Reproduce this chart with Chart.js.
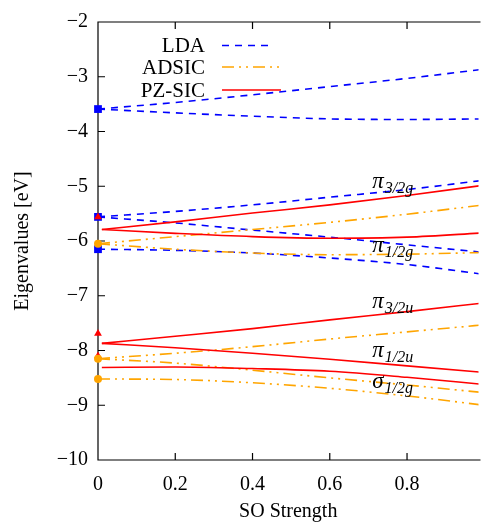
<!DOCTYPE html>
<html><head><meta charset="utf-8">
<script src="https://cdn.jsdelivr.net/npm/chart.js@4"></script>
<style>html,body{margin:0;padding:0;background:#fff;overflow:hidden}#wrap{width:484px;height:524px;position:relative}</style>
</head><body><div id="wrap"><canvas id="c" width="484" height="524"></canvas></div>
<script>
// ---- data ----
const soStrength = [0, 0.2, 0.4, 0.6, 0.8, 1.0];
const pzStrength = [0.01, 0.2, 0.4, 0.6, 0.8, 1.0];

const lda1 = [-3.59, -3.47, -3.33, -3.18, -3.03, -2.86];
const lda2 = [-3.59, -3.66, -3.72, -3.77, -3.78, -3.77];
const lda3 = [-5.56, -5.46, -5.34, -5.20, -5.06, -4.89];
const lda4 = [-5.56, -5.67, -5.80, -5.93, -6.07, -6.21];
const lda5 = [-6.15, -6.17, -6.22, -6.31, -6.43, -6.61];

const adsic1 = [-6.05, -5.92, -5.79, -5.66, -5.51, -5.34];
const adsic2 = [-6.05, -6.15, -6.22, -6.25, -6.24, -6.21];
const adsic3 = [-8.15, -8.05, -7.93, -7.79, -7.66, -7.53];
const adsic4 = [-8.15, -8.23, -8.36, -8.50, -8.63, -8.77];
const adsic5 = [-8.52, -8.53, -8.59, -8.69, -8.83, -9.00];

const pz1 = [-5.79, -5.65, -5.49, -5.34, -5.17, -4.98];
const pz2 = [-5.79, -5.86, -5.92, -5.95, -5.93, -5.85];
const pz3 = [-7.87, -7.74, -7.60, -7.44, -7.29, -7.13];
const pz4 = [-7.87, -7.95, -8.05, -8.16, -8.28, -8.40];
const pz5 = [-8.31, -8.30, -8.33, -8.38, -8.49, -8.62];

const ldaStart = [-3.59, -5.56, -6.15];
const adsicStart = [-6.05, -8.15, -8.52];
const pzStart = [-5.56, -7.69, -8.10];

const xTicks = [0, 0.2, 0.4, 0.6, 0.8];
const yTicks = [-2, -3, -4, -5, -6, -7, -8, -9, -10];
const seriesNames = ['LDA', 'ADSIC', 'PZ-SIC'];
const levelSymbols = ['π', 'π', 'π', 'π', 'σ'];
const levelSubs = ['3/2g', '1/2g', '3/2u', '1/2u', '1/2g'];

// ---- styles ----
const BLUE = '#0000ff', ORANGE = '#ffa500', RED = '#ff0000';
const DASH_LDA = [7, 6];
const DASH_ADSIC = [12, 5, 2, 5, 2, 5];
const FONT = "'Liberation Serif', 'Times New Roman', serif";
const labelPos = [[0.71, -5.03], [0.71, -6.21], [0.71, -7.22], [0.71, -8.12], [0.71, -8.69]];

const pts = (xs, ys) => xs.map((x, i) => ({x: x, y: ys[i]}));
const lineDs = (xs, ys, color, dash, order) => ({
  data: pts(xs, ys), borderColor: color, borderDash: dash, borderWidth: 1.6,
  pointRadius: 0, fill: false, cubicInterpolationMode: 'monotone', order: order
});
const markDs = (ys, color, style, r, order) => ({
  data: ys.map(y => ({x: 0, y: y})), showLine: false, pointStyle: style,
  pointRadius: r, pointBackgroundColor: color, pointBorderColor: color, pointBorderWidth: 0,
  clip: false, order: order
});

const datasets = [
  markDs(adsicStart, ORANGE, 'circle', 4, 0),
  markDs(pzStart, RED, 'triangle', 4.5, 1),
  markDs(ldaStart, BLUE, 'rect', 5.5, 2),
  ...[pz1, pz2, pz3, pz4, pz5].map(s => lineDs(pzStrength, s, RED, [], 3)),
  ...[adsic1, adsic2, adsic3, adsic4, adsic5].map(s => lineDs(soStrength, s, ORANGE, DASH_ADSIC, 4)),
  ...[lda1, lda2, lda3, lda4, lda5].map(s => lineDs(soStrength, s, BLUE, DASH_LDA, 5)),
];

const framePlugin = {
  id: 'frame',
  beforeDatasetsDraw(chart) {
    const {ctx, chartArea: a, scales: {x, y}} = chart;
    ctx.save();
    ctx.strokeStyle = '#000'; ctx.lineWidth = 1.2;
    ctx.beginPath();
    ctx.moveTo(a.right + 2, a.top); ctx.lineTo(a.left, a.top);
    ctx.lineTo(a.left, a.bottom); ctx.lineTo(a.right + 2, a.bottom);
    yTicks.forEach(v => { const p = y.getPixelForValue(v); ctx.moveTo(a.left, p); ctx.lineTo(a.left + 7, p); });
    xTicks.forEach(v => { const p = x.getPixelForValue(v);
      ctx.moveTo(p, a.bottom); ctx.lineTo(p, a.bottom - 7);
      ctx.moveTo(p, a.top); ctx.lineTo(p, a.top + 7); });
    ctx.stroke();
    ctx.restore();
  },
  afterDraw(chart) {
    const {ctx, chartArea: a, scales: {x, y}} = chart;
    ctx.save();
    // legend
    const rows = [a.top + 23.5, a.top + 45, a.top + 68];
    const cols = [BLUE, ORANGE, RED];
    const dashes = [DASH_LDA, DASH_ADSIC, []];
    const ends = [a.left + 175, a.left + 183, a.left + 183];
    ctx.font = '21px ' + FONT; ctx.fillStyle = '#000';
    ctx.textAlign = 'right'; ctx.textBaseline = 'middle';
    seriesNames.forEach((n, i) => {
      ctx.fillText(n, a.left + 107, rows[i] + 1);
      ctx.strokeStyle = cols[i]; ctx.lineWidth = 1.6; ctx.setLineDash(dashes[i]);
      ctx.beginPath(); ctx.moveTo(a.left + 124, rows[i]); ctx.lineTo(ends[i], rows[i]); ctx.stroke();
    });
    ctx.setLineDash([]);
    // level labels
    ctx.textAlign = 'left'; ctx.textBaseline = 'alphabetic';
    levelSymbols.forEach((s, i) => {
      const px = x.getPixelForValue(labelPos[i][0]);
      const py = y.getPixelForValue(labelPos[i][1]);
      ctx.font = 'italic 23px ' + FONT;
      ctx.fillText(s, px, py);
      const w = ctx.measureText(s).width;
      ctx.font = 'italic 16px ' + FONT;
      ctx.fillText(levelSubs[i], px + w + 1, py + 5);
    });
    ctx.restore();
  }
};

Chart.defaults.font.family = FONT;
Chart.defaults.font.size = 20;
Chart.defaults.color = '#000';

new Chart(document.getElementById('c'), {
  type: 'line',
  data: {datasets: datasets},
  options: {
    responsive: false, animation: false, devicePixelRatio: 1,
    layout: {padding: {top: 18, right: 0, left: 0, bottom: 0}},
    plugins: {legend: {display: false}, tooltip: {enabled: false}},
    scales: {
      x: {
        type: 'linear', min: 0, max: 0.985,
        grid: {display: false, drawTicks: false}, border: {display: false},
        afterFit: s => { s.height = 64; },
        afterBuildTicks: s => { s.ticks = xTicks.map(v => ({value: v})); },
        ticks: {padding: 13, maxRotation: 0, callback: v => (v === 0 ? '0' : v.toFixed(1))},
        title: {display: true, text: 'SO Strength', font: {size: 20}, padding: {top: 0, bottom: 0}}
      },
      y: {
        type: 'linear', min: -10, max: -2,
        grid: {display: false, drawTicks: false}, border: {display: false},
        afterFit: s => { s.width = 98; },
        afterBuildTicks: s => { s.ticks = yTicks.map(v => ({value: v})); },
        ticks: {padding: 10, callback: v => '\u2212' + Math.abs(v)},
        title: {display: true, text: 'Eigenvalues [eV]', font: {size: 20}, padding: {top: 11, bottom: 0}}
      }
    }
  },
  plugins: [framePlugin]
});
</script></body></html>
